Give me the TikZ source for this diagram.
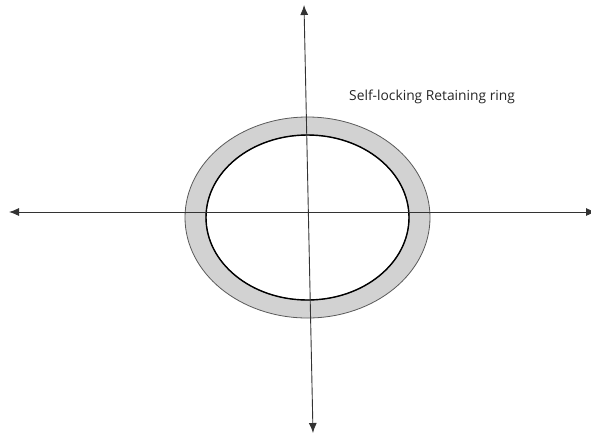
\documentclass[tikz,border=0pt]{standalone}
\usepackage{fontspec}
\setmainfont{Open Sans}
\usetikzlibrary{arrows.meta}

\begin{document}
\begin{tikzpicture}[x=1pt,y=-1pt,>={Latex[length=10pt,width=8pt]}]
    \useasboundingbox (0,0) rectangle (591,437);

    % Ring (outer band and inner edge)
    \draw[gray!70!black,line width=0.8pt,fill=gray!35,even odd rule]
        (307.5,217.5) ellipse [x radius=122.5,y radius=100.5]
        (307.5,217.5) ellipse [x radius=101.5,y radius=82.5];
    \draw[black,line width=1.4pt] (307.5,217.5) ellipse [x radius=101.5,y radius=82.5];

    % Axes
    \coordinate (left) at (9,212);
    \coordinate (right) at (596,212);
    \coordinate (top) at (304,5);
    \coordinate (bottom) at (313,433);
    \draw[<->,line width=0.9pt,black!80] (left) -- (right);
    \draw[<->,line width=0.9pt,black!80] (top) -- (bottom);

    % Label
    \node[font=\fontsize{13.8}{16}\selectfont,text=black!85,anchor=west,inner sep=0pt] (ringlabel) at (349,97) {Self-locking Retaining ring};
\end{tikzpicture}
\end{document}
